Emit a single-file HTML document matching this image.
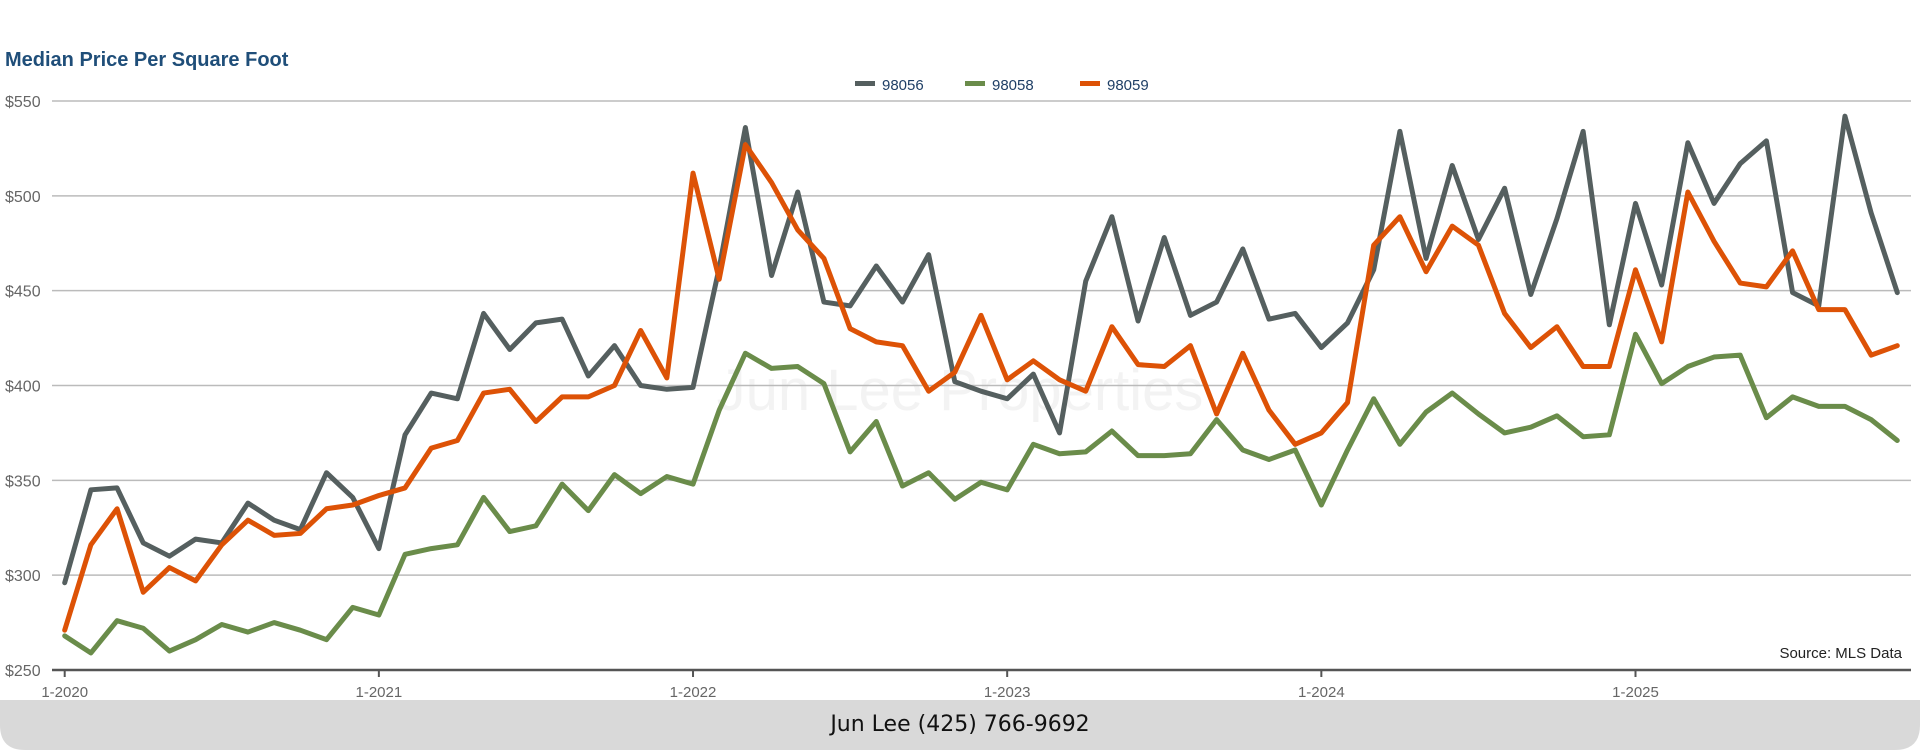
<!DOCTYPE html>
<html><head><meta charset="utf-8"><style>
body{margin:0;width:1920px;height:750px;overflow:hidden;background:#fff;font-family:"Liberation Sans",sans-serif}
</style></head><body>
<svg id="chart" width="1920" height="750" xmlns="http://www.w3.org/2000/svg"></svg>
<script>
const seriesNames=["98056","98058","98059"];
const seriesColors=["#555f5f","#6a8c4a","#dd5206"];
const yTicks=[250,300,350,400,450,500,550];
const xTickLabels=["1-2020","1-2021","1-2022","1-2023","1-2024","1-2025"];
const s98056=[296,345,346,317,310,319,317,338,329,324,354,341,314,374,396,393,438,419,433,435,405,421,400,398,399,462,536,458,502,444,442,463,444,469,402,397,393,406,375,455,489,434,478,437,444,472,435,438,420,433,461,534,467,516,477,504,448,488,534,432,496,453,528,496,517,529,449,442,542,491,449];
const s98058=[268,259,276,272,260,266,274,270,275,271,266,283,279,311,314,316,341,323,326,348,334,353,343,352,348,387,417,409,410,401,365,381,347,354,340,349,345,369,364,365,376,363,363,364,382,366,361,366,337,366,393,369,386,396,385,375,378,384,373,374,427,401,410,415,416,383,394,389,389,382,371];
const s98059=[271,316,335,291,304,297,316,329,321,322,335,337,342,346,367,371,396,398,381,394,394,400,429,404,512,456,527,507,482,467,430,423,421,397,407,437,403,413,403,397,431,411,410,421,385,417,387,369,375,391,474,489,460,484,474,438,420,431,410,410,461,423,502,476,454,452,471,440,440,416,421];
const allSeries=[s98056,s98058,s98059];

const NS="http://www.w3.org/2000/svg";
const svg=document.getElementById('chart');
const X0=64.7,MW=26.18,PL=52,PR=1911;
const xs=i=>X0+i*MW;
const ys=v=>670-(v-250)*(569/300);
function el(t,a,p){const e=document.createElementNS(NS,t);for(const k in a)e.setAttribute(k,a[k]);(p||svg).appendChild(e);return e;}

// title
let t=el('text',{x:5,y:66,'font-size':20,'font-weight':'bold',fill:'#1f4e79'});t.textContent='Median Price Per Square Foot';



// watermark
let w=el('text',{x:960,y:410,'font-size':58,fill:'#f3f3f3','text-anchor':'middle'});w.textContent='Jun Lee Properties';



// grid + y labels
yTicks.forEach(v=>{
  const y=ys(v);
  if(v>250){const g=el('line',{x1:PL,x2:PR,y1:y,y2:y,stroke:'#bbbbbb','stroke-width':1.5});
  
  }
  const l=el('text',{x:5,y:y+6,'font-size':16,fill:'#666'});l.textContent='$'+v;
  
  
});
// x axis
const ax=el('line',{x1:PL,x2:PR,y1:ys(250),y2:ys(250),stroke:'#555','stroke-width':2.5});


xTickLabels.forEach((lab,k)=>{
  const x=xs(k*12);
  const tk=el('line',{x1:x,x2:x,y1:ys(250),y2:ys(250)+7,stroke:'#555','stroke-width':2});
  
  
  const tl=el('text',{x:x,y:697,'font-size':15,fill:'#666','text-anchor':'middle'});tl.textContent=lab;
  
  
});

// series
allSeries.forEach((s,k)=>{
  const p=el('polyline',{points:s.map((v,i)=>xs(i)+','+ys(v)).join(' '),fill:'none',stroke:seriesColors[k],'stroke-width':5,'stroke-linejoin':'round','stroke-linecap':'round'});
  
  
});

// legend
const lx=[855,965,1080];
seriesNames.forEach((n,k)=>{
  const g=el('g',{});
  
  
  el('rect',{x:lx[k],y:81,width:20,height:5,fill:seriesColors[k]},g);
  const tx=el('text',{x:lx[k]+27,y:90,'font-size':15,fill:'#1f3f66'},g);tx.textContent=n;
});

// source
const src=el('text',{x:1902,y:658,'font-size':15,fill:'#222','text-anchor':'end'});src.textContent='Source: MLS Data';



// footer
const ft=el('path',{d:'M0 700 H1920 V725 Q1920 750 1895 750 H25 Q0 750 0 725 Z',fill:'#d9d9d9'});


const fx=el('text',{x:960,y:731,'font-size':22,fill:'#111','text-anchor':'middle','font-family':'DejaVu Sans, sans-serif'});fx.textContent='Jun Lee (425) 766-9692';


</script>
</body></html>
